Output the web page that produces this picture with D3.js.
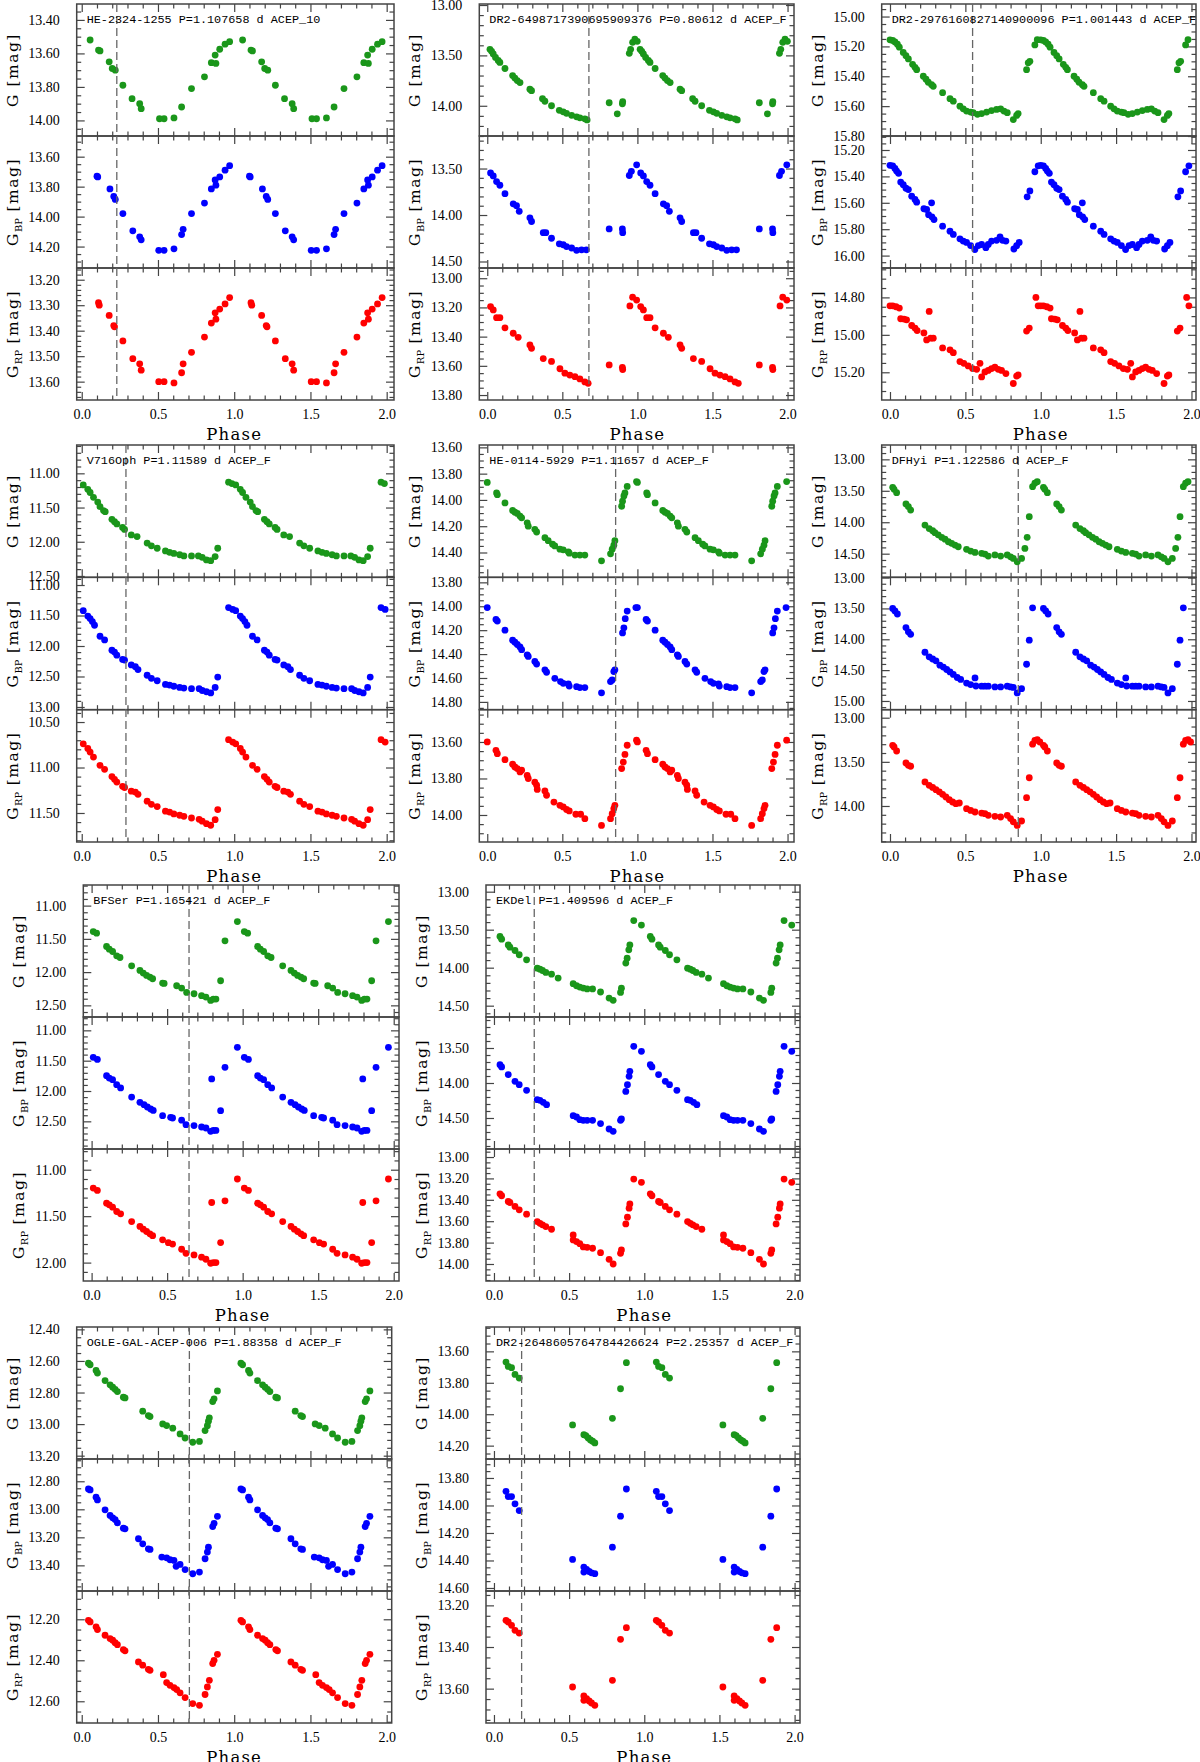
<!DOCTYPE html>
<html>
<head>
<meta charset="utf-8">
<script src="https://cdn.jsdelivr.net/npm/d3@7"></script>
<style>
  body { margin: 0; background: #fff; }
  svg { display: block; }
</style>
</head>
<body>
<svg id="chart"></svg>
<script>
// light curves: [phase, mag] for one cycle, drawn again at phase + 1

const titles = [
  'HE-2324-1255 P=1.107658 d ACEP_10',
  'DR2-6498717390695909376 P=0.80612 d ACEP_F',
  'DR2-2976160827140900096 P=1.001443 d ACEP_F',
  'V716Oph P=1.11589 d ACEP_F',
  'HE-0114-5929 P=1.11657 d ACEP_F',
  'DFHyi P=1.122586 d ACEP_F',
  'BFSer P=1.165421 d ACEP_F',
  'EKDel P=1.409596 d ACEP_F',
  'OGLE-GAL-ACEP-006 P=1.88358 d ACEP_F',
  'DR2-2648605764784426624 P=2.25357 d ACEP_F'
];

// phase of the dashed vertical line
const markPhase = [0.23, 0.677, 0.548, 0.29, 0.855, 0.851, 0.645, 0.268, 0.706, 0.184];

// y limits (bright at top) and major tick step, per star: G, BP, RP
const yLimits = [
  [[13.305, 14.093], [13.462, 14.343], [13.154, 13.672]],
  [[12.99, 14.30], [13.15, 14.57], [12.93, 13.834]],
  [[14.916, 15.80], [15.094, 16.094], [14.643, 15.348]],
  [[10.586, 12.52], [10.874, 13.044], [10.364, 11.819]],
  [[13.582, 14.589], [13.758, 14.865], [13.423, 14.148]],
  [[12.772, 14.876], [12.996, 15.141], [12.909, 14.408]],
  [[10.69, 12.675], [10.78, 12.956], [10.777, 12.198]],
  [[12.912, 14.649], [13.057, 14.943], [12.925, 14.159]],
  [[12.385, 13.221], [12.641, 13.583], [12.062, 12.706]],
  [[13.445, 14.285], [13.662, 14.622], [13.131, 13.765]]
];
const yStep = [
  [0.2, 0.2, 0.1], [0.5, 0.5, 0.2], [0.2, 0.2, 0.2], [0.5, 0.5, 0.5], [0.2, 0.2, 0.2],
  [0.5, 0.5, 0.5], [0.5, 0.5, 0.5], [0.5, 0.5, 0.2], [0.2, 0.2, 0.2], [0.2, 0.2, 0.2]
];

const s1G = [[0.055,13.52],[0.11,13.58],[0.12,13.585],[0.18,13.65],[0.20,13.69],[0.22,13.70],[0.27,13.79],[0.33,13.87],[0.38,13.90],[0.39,13.93],[0.51,13.99],[0.54,13.99],[0.605,13.985],[0.655,13.92],[0.72,13.81],[0.805,13.74],[0.85,13.655],[0.875,13.61],[0.88,13.66],[0.905,13.575],[0.94,13.545],[0.97,13.53]];
const s1BP = [[0.10,13.73],[0.105,13.735],[0.185,13.815],[0.21,13.865],[0.22,13.885],[0.27,13.98],[0.335,14.095],[0.38,14.135],[0.39,14.155],[0.505,14.225],[0.54,14.225],[0.605,14.215],[0.655,14.12],[0.665,14.085],[0.72,13.98],[0.805,13.91],[0.85,13.815],[0.875,13.755],[0.88,13.79],[0.905,13.735],[0.94,13.69],[0.97,13.66]];
const s1RP = [[0.11,13.29],[0.115,13.30],[0.18,13.34],[0.21,13.38],[0.215,13.385],[0.27,13.44],[0.335,13.51],[0.38,13.53],[0.39,13.555],[0.505,13.60],[0.54,13.60],[0.605,13.605],[0.655,13.565],[0.665,13.53],[0.72,13.485],[0.805,13.425],[0.85,13.37],[0.875,13.33],[0.88,13.355],[0.905,13.315],[0.94,13.295],[0.97,13.27]];

const s2G = [[0.018,13.44],[0.029,13.46],[0.04,13.485],[0.055,13.52],[0.073,13.55],[0.084,13.57],[0.118,13.63],[0.169,13.70],[0.184,13.725],[0.2,13.75],[0.218,13.77],[0.284,13.835],[0.295,13.85],[0.368,13.93],[0.384,13.955],[0.428,14.0],[0.48,14.045],[0.506,14.06],[0.528,14.075],[0.562,14.095],[0.595,14.11],[0.617,14.12],[0.65,14.13],[0.665,14.14],[0.812,13.97],[0.866,14.08],[0.9,13.98],[0.902,13.96],[0.946,13.48],[0.955,13.44],[0.968,13.37],[0.983,13.34],[0.999,13.36]];
const s2BP = [[0.022,13.547],[0.04,13.58],[0.062,13.64],[0.084,13.68],[0.118,13.77],[0.173,13.88],[0.195,13.90],[0.213,13.96],[0.284,14.03],[0.295,14.07],[0.373,14.19],[0.39,14.19],[0.428,14.25],[0.48,14.31],[0.506,14.32],[0.528,14.34],[0.562,14.355],[0.595,14.38],[0.628,14.375],[0.66,14.375],[0.812,14.15],[0.9,14.15],[0.902,14.19],[0.946,13.575],[0.96,13.53],[0.995,13.46]];
const s2RP = [[0.022,13.194],[0.04,13.217],[0.062,13.27],[0.084,13.27],[0.118,13.34],[0.173,13.377],[0.206,13.405],[0.284,13.457],[0.295,13.48],[0.373,13.55],[0.428,13.57],[0.484,13.62],[0.517,13.65],[0.55,13.663],[0.584,13.674],[0.617,13.69],[0.65,13.71],[0.672,13.72],[0.812,13.594],[0.9,13.61],[0.902,13.625],[0.95,13.19],[0.968,13.13],[0.995,13.15]];

const s3G = [[0.0,15.156],[0.018,15.16],[0.033,15.17],[0.049,15.185],[0.062,15.205],[0.088,15.24],[0.106,15.262],[0.122,15.284],[0.15,15.32],[0.166,15.34],[0.177,15.356],[0.221,15.40],[0.239,15.42],[0.254,15.44],[0.276,15.456],[0.287,15.467],[0.349,15.51],[0.398,15.55],[0.42,15.567],[0.464,15.60],[0.486,15.618],[0.508,15.633],[0.535,15.64],[0.552,15.644],[0.58,15.655],[0.608,15.65],[0.641,15.64],[0.674,15.63],[0.707,15.622],[0.734,15.618],[0.756,15.633],[0.778,15.644],[0.818,15.69],[0.84,15.662],[0.85,15.65],[0.906,15.356],[0.917,15.31],[0.928,15.30],[0.961,15.19],[0.977,15.155]];
const s3BP = [[0.0,15.316],[0.018,15.32],[0.033,15.34],[0.044,15.36],[0.057,15.377],[0.071,15.443],[0.088,15.463],[0.106,15.49],[0.122,15.50],[0.144,15.55],[0.166,15.575],[0.177,15.595],[0.225,15.645],[0.243,15.65],[0.256,15.69],[0.276,15.60],[0.278,15.706],[0.292,15.727],[0.349,15.777],[0.398,15.815],[0.42,15.84],[0.464,15.873],[0.486,15.89],[0.508,15.90],[0.535,15.924],[0.563,15.954],[0.586,15.924],[0.608,15.916],[0.636,15.94],[0.652,15.916],[0.674,15.89],[0.707,15.884],[0.73,15.858],[0.747,15.884],[0.769,15.89],[0.822,15.95],[0.84,15.925],[0.857,15.90],[0.91,15.555],[0.928,15.51],[0.961,15.365],[0.983,15.32]];
const s3RP = [[0.0,14.845],[0.018,14.845],[0.04,14.85],[0.062,14.857],[0.071,14.914],[0.093,14.916],[0.11,14.92],[0.144,14.95],[0.166,14.964],[0.18,14.977],[0.225,14.99],[0.243,15.027],[0.26,14.875],[0.27,15.018],[0.287,15.018],[0.349,15.07],[0.398,15.08],[0.42,15.095],[0.464,15.143],[0.49,15.152],[0.519,15.166],[0.548,15.18],[0.575,15.184],[0.597,15.152],[0.608,15.225],[0.63,15.198],[0.652,15.19],[0.674,15.18],[0.696,15.173],[0.718,15.184],[0.74,15.19],[0.769,15.207],[0.818,15.26],[0.84,15.22],[0.85,15.214],[0.906,14.98],[0.924,14.964],[0.968,14.80],[0.983,14.845]];

const s4G = [[0.01,11.17],[0.04,11.234],[0.055,11.28],[0.077,11.35],[0.105,11.42],[0.12,11.487],[0.143,11.545],[0.154,11.56],[0.198,11.672],[0.215,11.706],[0.23,11.74],[0.268,11.79],[0.281,11.82],[0.325,11.90],[0.363,11.925],[0.429,12.02],[0.457,12.06],[0.495,12.095],[0.549,12.134],[0.576,12.154],[0.604,12.17],[0.642,12.19],[0.67,12.207],[0.72,12.207],[0.765,12.207],[0.79,12.227],[0.818,12.266],[0.846,12.276],[0.875,12.217],[0.892,12.095],[0.963,11.13],[0.985,11.15]];
const s4BP = [[0.01,11.42],[0.04,11.51],[0.055,11.55],[0.07,11.60],[0.084,11.66],[0.12,11.84],[0.15,11.90],[0.198,12.07],[0.215,12.10],[0.23,12.15],[0.268,12.22],[0.281,12.23],[0.325,12.31],[0.352,12.34],[0.369,12.386],[0.429,12.48],[0.457,12.53],[0.495,12.57],[0.549,12.63],[0.576,12.64],[0.604,12.66],[0.642,12.68],[0.67,12.69],[0.72,12.70],[0.77,12.70],[0.79,12.73],[0.818,12.75],[0.846,12.77],[0.875,12.68],[0.892,12.51],[0.963,11.37],[0.99,11.40]];
const s4RP = [[0.01,10.74],[0.04,10.79],[0.055,10.83],[0.077,10.885],[0.12,10.976],[0.15,11.02],[0.198,11.10],[0.215,11.13],[0.23,11.16],[0.268,11.207],[0.281,11.22],[0.325,11.26],[0.352,11.27],[0.369,11.295],[0.429,11.37],[0.457,11.405],[0.495,11.43],[0.549,11.48],[0.576,11.49],[0.604,11.51],[0.642,11.525],[0.67,11.537],[0.72,11.555],[0.77,11.57],[0.79,11.59],[0.818,11.617],[0.846,11.635],[0.875,11.573],[0.892,11.463],[0.963,10.694],[0.99,10.72]];

const s5G = [[0.0,13.867],[0.062,13.947],[0.067,13.96],[0.118,14.023],[0.169,14.08],[0.184,14.093],[0.2,14.103],[0.218,14.123],[0.229,14.136],[0.266,14.174],[0.273,14.20],[0.317,14.224],[0.329,14.244],[0.384,14.287],[0.406,14.31],[0.435,14.337],[0.45,14.35],[0.484,14.375],[0.506,14.38],[0.54,14.395],[0.546,14.405],[0.584,14.42],[0.617,14.42],[0.65,14.42],[0.761,14.463],[0.821,14.41],[0.832,14.375],[0.843,14.345],[0.85,14.31],[0.895,14.048],[0.901,14.01],[0.91,13.97],[0.917,13.947],[0.932,13.897],[0.994,13.86]];
const s5BP = [[0.0,14.011],[0.058,14.11],[0.067,14.124],[0.118,14.20],[0.169,14.284],[0.184,14.30],[0.2,14.32],[0.218,14.34],[0.229,14.363],[0.266,14.406],[0.273,14.42],[0.317,14.462],[0.329,14.484],[0.384,14.532],[0.395,14.552],[0.45,14.603],[0.488,14.63],[0.506,14.645],[0.54,14.65],[0.546,14.668],[0.595,14.673],[0.617,14.68],[0.65,14.68],[0.761,14.724],[0.821,14.63],[0.832,14.617],[0.843,14.546],[0.85,14.532],[0.901,14.223],[0.91,14.18],[0.919,14.104],[0.932,14.04],[0.99,14.011]];
const s5RP = [[0.0,13.60],[0.058,13.646],[0.067,13.664],[0.118,13.697],[0.169,13.722],[0.184,13.737],[0.2,13.746],[0.218,13.764],[0.229,13.755],[0.266,13.783],[0.273,13.80],[0.317,13.82],[0.329,13.837],[0.333,13.86],[0.384,13.868],[0.395,13.892],[0.444,13.929],[0.484,13.947],[0.506,13.956],[0.528,13.97],[0.546,13.978],[0.59,13.996],[0.622,13.996],[0.65,14.02],[0.761,14.057],[0.821,14.02],[0.832,13.993],[0.843,13.965],[0.85,13.947],[0.895,13.746],[0.906,13.71],[0.917,13.668],[0.932,13.618],[0.994,13.59]];

const s6G = [[0.018,13.445],[0.027,13.477],[0.044,13.53],[0.106,13.71],[0.122,13.753],[0.137,13.806],[0.232,14.045],[0.26,14.10],[0.283,14.135],[0.298,14.166],[0.32,14.20],[0.343,14.24],[0.365,14.27],[0.387,14.31],[0.409,14.336],[0.431,14.363],[0.453,14.39],[0.508,14.43],[0.535,14.458],[0.564,14.48],[0.608,14.495],[0.63,14.506],[0.652,14.538],[0.696,14.52],[0.734,14.538],[0.778,14.52],[0.8,14.55],[0.818,14.575],[0.844,14.628],[0.873,14.575],[0.895,14.416],[0.91,14.24],[0.924,13.912],[0.946,13.435],[0.961,13.38],[0.977,13.355]];
const s6BP = [[0.018,13.50],[0.033,13.54],[0.049,13.59],[0.106,13.81],[0.122,13.88],[0.137,13.92],[0.232,14.21],[0.26,14.285],[0.283,14.32],[0.305,14.35],[0.331,14.42],[0.354,14.45],[0.376,14.49],[0.398,14.53],[0.42,14.57],[0.446,14.62],[0.469,14.65],[0.508,14.71],[0.535,14.735],[0.564,14.627],[0.57,14.757],[0.608,14.76],[0.63,14.76],[0.652,14.76],[0.696,14.773],[0.734,14.773],[0.778,14.76],[0.8,14.773],[0.818,14.78],[0.844,14.87],[0.873,14.80],[0.906,14.405],[0.924,14.015],[0.946,13.49]];
const s6RP = [[0.018,13.313],[0.027,13.332],[0.044,13.377],[0.106,13.513],[0.122,13.54],[0.137,13.55],[0.232,13.728],[0.26,13.766],[0.283,13.79],[0.305,13.815],[0.327,13.84],[0.349,13.868],[0.371,13.898],[0.393,13.928],[0.415,13.955],[0.437,13.974],[0.46,13.966],[0.508,14.03],[0.535,14.05],[0.564,14.068],[0.608,14.08],[0.63,14.087],[0.652,14.106],[0.696,14.117],[0.734,14.125],[0.778,14.106],[0.8,14.143],[0.818,14.18],[0.844,14.22],[0.873,14.17],[0.906,13.906],[0.924,13.68],[0.946,13.30],[0.961,13.257],[0.977,13.25],[0.994,13.275]];

const s7G = [[0.011,11.39],[0.033,11.415],[0.099,11.615],[0.117,11.655],[0.139,11.69],[0.166,11.755],[0.188,11.78],[0.265,11.905],[0.32,11.975],[0.342,12.015],[0.364,12.05],[0.386,12.075],[0.404,12.10],[0.47,12.165],[0.48,12.17],[0.563,12.205],[0.596,12.24],[0.629,12.305],[0.678,12.325],[0.728,12.355],[0.757,12.375],[0.788,12.425],[0.806,12.405],[0.823,12.405],[0.854,12.13],[0.883,11.53],[0.965,11.24]];
const s7BP = [[0.011,11.445],[0.038,11.48],[0.099,11.747],[0.117,11.786],[0.139,11.813],[0.166,11.895],[0.192,11.95],[0.265,12.10],[0.32,12.187],[0.347,12.225],[0.369,12.264],[0.391,12.297],[0.408,12.32],[0.47,12.407],[0.523,12.434],[0.536,12.445],[0.596,12.48],[0.625,12.555],[0.678,12.57],[0.728,12.593],[0.757,12.61],[0.788,12.665],[0.795,11.80],[0.806,12.65],[0.823,12.65],[0.854,12.324],[0.883,11.61],[0.965,11.28]];
const s7RP = [[0.011,11.198],[0.038,11.223],[0.099,11.36],[0.117,11.378],[0.139,11.403],[0.166,11.45],[0.192,11.475],[0.265,11.558],[0.32,11.61],[0.342,11.64],[0.364,11.665],[0.386,11.69],[0.404,11.71],[0.47,11.755],[0.508,11.785],[0.536,11.80],[0.596,11.856],[0.625,11.90],[0.678,11.917],[0.728,11.942],[0.757,11.964],[0.788,12.007],[0.795,11.353],[0.806,12.0],[0.823,12.0],[0.854,11.784],[0.883,11.335],[0.965,11.10]];

const s8G = [[0.04,13.59],[0.051,13.625],[0.095,13.70],[0.106,13.73],[0.14,13.774],[0.168,13.83],[0.217,13.897],[0.288,14.006],[0.306,14.02],[0.323,14.037],[0.345,14.063],[0.383,14.085],[0.427,14.137],[0.527,14.21],[0.549,14.238],[0.571,14.255],[0.594,14.269],[0.62,14.28],[0.656,14.28],[0.709,14.32],[0.766,14.40],[0.793,14.43],[0.842,14.325],[0.848,14.27],[0.877,13.94],[0.886,13.875],[0.897,13.765],[0.904,13.70],[0.93,13.38],[0.981,13.44]];
const s8BP = [[0.04,13.738],[0.051,13.77],[0.095,13.88],[0.14,13.976],[0.168,14.024],[0.217,14.105],[0.288,14.238],[0.306,14.248],[0.328,14.276],[0.35,14.31],[0.527,14.467],[0.549,14.486],[0.571,14.524],[0.594,14.533],[0.62,14.533],[0.656,14.533],[0.709,14.58],[0.766,14.657],[0.793,14.69],[0.842,14.533],[0.848,14.514],[0.877,14.12],[0.888,14.024],[0.899,13.905],[0.904,13.833],[0.93,13.476],[0.981,13.548]];
const s8RP = [[0.04,13.344],[0.051,13.362],[0.095,13.416],[0.106,13.425],[0.14,13.462],[0.168,13.494],[0.217,13.534],[0.288,13.603],[0.306,13.62],[0.323,13.634],[0.345,13.65],[0.383,13.675],[0.527,13.728],[0.527,13.775],[0.549,13.79],[0.571,13.81],[0.594,13.84],[0.62,13.844],[0.656,13.853],[0.709,13.894],[0.766,13.956],[0.793,14.0],[0.842,13.90],[0.848,13.869],[0.877,13.625],[0.888,13.562],[0.899,13.478],[0.904,13.438],[0.93,13.206],[0.981,13.237]];

const s9G = [[0.044,12.614],[0.055,12.624],[0.094,12.66],[0.103,12.677],[0.153,12.724],[0.186,12.751],[0.203,12.766],[0.219,12.78],[0.234,12.794],[0.273,12.83],[0.284,12.834],[0.40,12.918],[0.437,12.946],[0.448,12.952],[0.531,12.999],[0.557,13.009],[0.597,13.026],[0.645,13.062],[0.678,13.088],[0.728,13.115],[0.772,13.11],[0.809,13.041],[0.824,13.01],[0.831,12.982],[0.837,12.96],[0.859,12.857],[0.868,12.84],[0.89,12.79]];
const s9BP = [[0.044,12.855],[0.055,12.862],[0.094,12.914],[0.103,12.933],[0.153,13.004],[0.186,13.044],[0.203,13.061],[0.219,13.073],[0.234,13.097],[0.273,13.135],[0.284,13.139],[0.372,13.21],[0.40,13.246],[0.437,13.282],[0.448,13.286],[0.525,13.341],[0.557,13.346],[0.579,13.36],[0.605,13.365],[0.619,13.407],[0.645,13.393],[0.678,13.43],[0.728,13.46],[0.772,13.448],[0.809,13.353],[0.824,13.305],[0.831,13.27],[0.859,13.123],[0.868,13.10],[0.89,13.05]];
const s9RP = [[0.044,12.205],[0.055,12.213],[0.094,12.237],[0.103,12.25],[0.153,12.278],[0.186,12.294],[0.203,12.302],[0.219,12.314],[0.234,12.324],[0.273,12.348],[0.284,12.354],[0.372,12.408],[0.40,12.424],[0.437,12.444],[0.448,12.449],[0.535,12.47],[0.557,12.509],[0.579,12.522],[0.605,12.533],[0.623,12.543],[0.645,12.559],[0.678,12.582],[0.728,12.611],[0.772,12.62],[0.809,12.567],[0.824,12.53],[0.837,12.498],[0.859,12.416],[0.868,12.40],[0.89,12.371]];

const s10G = [[0.08,13.668],[0.095,13.696],[0.117,13.704],[0.14,13.747],[0.168,13.77],[0.523,14.068],[0.598,14.13],[0.611,14.136],[0.627,14.151],[0.642,14.164],[0.656,14.172],[0.671,14.183],[0.788,14.026],[0.842,13.838],[0.881,13.672]];
const s10BP = [[0.08,13.897],[0.095,13.935],[0.117,13.935],[0.14,13.988],[0.168,14.037],[0.523,14.392],[0.598,14.448],[0.598,14.484],[0.616,14.465],[0.633,14.48],[0.649,14.49],[0.671,14.496],[0.788,14.303],[0.842,14.078],[0.881,13.88]];
const s10RP = [[0.08,13.272],[0.095,13.28],[0.117,13.296],[0.14,13.32],[0.168,13.333],[0.523,13.592],[0.598,13.635],[0.598,13.656],[0.616,13.648],[0.633,13.659],[0.649,13.669],[0.671,13.68],[0.788,13.56],[0.842,13.363],[0.881,13.307]];

const curves = [
  [s1G, s1BP, s1RP], [s2G, s2BP, s2RP], [s3G, s3BP, s3RP], [s4G, s4BP, s4RP], [s5G, s5BP, s5RP],
  [s6G, s6BP, s6RP], [s7G, s7BP, s7RP], [s8G, s8BP, s8RP], [s9G, s9BP, s9RP], [s10G, s10BP, s10RP]
];

// ---- layout ----
const width = 1200;
const height = 1762;

const boxes = [
  { L: 76.7, R: 394, T: 4, B: 400, x0: -0.033, x1: 2.048 },
  { L: 479.3, R: 794, T: 4, B: 400, x0: -0.053, x1: 2.043 },
  { L: 881.7, R: 1196, T: 4, B: 400, x0: -0.055, x1: 2.03 },
  { L: 76.7, R: 394, T: 445, B: 842, x0: -0.033, x1: 2.048 },
  { L: 479.3, R: 794, T: 445, B: 842, x0: -0.053, x1: 2.043 },
  { L: 881.7, R: 1196, T: 445, B: 842, x0: -0.055, x1: 2.03 },
  { L: 83.3, R: 399, T: 885, B: 1281, x0: -0.055, x1: 2.035 },
  { L: 486, R: 800, T: 885, B: 1281, x0: -0.053, x1: 2.036 },
  { L: 76.7, R: 391.7, T: 1327, B: 1723, x0: -0.033, x1: 2.033 },
  { L: 486, R: 800, T: 1327, B: 1723, x0: -0.053, x1: 2.036 }
];

const bandColor = ['#1a961a', '#0000ff', '#ff0000'];
const bandSub = ['', 'BP', 'RP'];
const axisColor = '#444';

const svg = d3.select('#chart')
              .attr('width', width)
              .attr('height', height);

function stepValues(lo, hi, step) {
  const out = [];
  for (let k = Math.ceil(lo / step - 1e-6); k * step <= hi + 1e-6; k++) {
    out.push(+(k * step).toFixed(4));
  }
  return out;
}

function styleAxis(g) {
  g.select('.domain').remove();
  g.selectAll('line').attr('stroke', axisColor).attr('stroke-width', 1.2);
  g.selectAll('text')
    .attr('fill', '#000')
    .attr('font-family', '"Liberation Serif", serif')
    .attr('font-size', 14);
}

function drawStar(i) {
  const box = boxes[i];
  const g = svg.append('g');
  const x = d3.scaleLinear().domain([box.x0, box.x1]).range([box.L, box.R]);
  const ph = (box.B - box.T) / 3;

  const xMajor = stepValues(box.x0, box.x1, 0.5);
  const xMinor = stepValues(box.x0, box.x1, 0.1).filter((v) => !xMajor.some((m) => Math.abs(m - v) < 1e-6));

  curves[i].forEach((pts, b) => {
    const top = box.T + b * ph;
    const bot = top + ph;
    const [lo, hi] = yLimits[i][b];
    const y = d3.scaleLinear().domain([lo, hi]).range([top, bot]);
    const step = yStep[i][b];
    const minor = step === 0.5 ? 0.1 : step === 0.2 ? 0.05 : 0.02;
    const yMajor = stepValues(lo, hi, step);
    const yMinor = stepValues(lo, hi, minor).filter((v) => !yMajor.some((m) => Math.abs(m - v) < 1e-6));

    // left axis with labels
    g.append('g')
      .attr('transform', `translate(${box.L},0)`)
      .call(d3.axisLeft(y).tickValues(yMajor).tickSize(-8).tickPadding(17).tickFormat(d3.format('.2f')))
      .call(styleAxis);
    g.append('g')
      .attr('transform', `translate(${box.L},0)`)
      .call(d3.axisLeft(y).tickValues(yMinor).tickSize(-4.5).tickFormat(''))
      .call(styleAxis);
    // right axis
    g.append('g')
      .attr('transform', `translate(${box.R},0)`)
      .call(d3.axisRight(y).tickValues(yMajor).tickSize(-8).tickFormat(''))
      .call(styleAxis);
    g.append('g')
      .attr('transform', `translate(${box.R},0)`)
      .call(d3.axisRight(y).tickValues(yMinor).tickSize(-4.5).tickFormat(''))
      .call(styleAxis);
    // top and bottom ticks
    g.append('g')
      .attr('transform', `translate(0,${top})`)
      .call(d3.axisTop(x).tickValues(xMajor).tickSize(-8).tickFormat(''))
      .call(styleAxis);
    g.append('g')
      .attr('transform', `translate(0,${top})`)
      .call(d3.axisTop(x).tickValues(xMinor).tickSize(-4.5).tickFormat(''))
      .call(styleAxis);
    g.append('g')
      .attr('transform', `translate(0,${bot})`)
      .call(d3.axisBottom(x).tickValues(xMajor).tickSize(-8).tickPadding(9)
        .tickFormat(b === 2 ? d3.format('.1f') : ''))
      .call(styleAxis);
    g.append('g')
      .attr('transform', `translate(0,${bot})`)
      .call(d3.axisBottom(x).tickValues(xMinor).tickSize(-4.5).tickFormat(''))
      .call(styleAxis);

    // frame
    g.append('rect')
      .attr('x', box.L)
      .attr('y', top)
      .attr('width', box.R - box.L)
      .attr('height', ph)
      .attr('fill', 'none')
      .attr('stroke', axisColor)
      .attr('stroke-width', 1.5);

    // points, one cycle and its copy one phase later
    const both = pts.map((d) => [d[0], d[1]])
      .concat(pts.map((d) => [d[0] + 1, d[1]]))
      .filter((d) => d[0] <= box.x1 && d[0] >= box.x0);
    g.append('g')
      .selectAll('circle')
      .data(both)
      .enter()
      .append('circle')
        .attr('cx', (d) => x(d[0]))
        .attr('cy', (d) => y(d[1]))
        .attr('r', 3.4)
        .attr('fill', bandColor[b]);

    // y label
    const lab = g.append('text')
      .attr('transform', `translate(${box.L - 59},${(top + bot) / 2}) rotate(-90)`)
      .attr('text-anchor', 'middle')
      .attr('font-family', '"DejaVu Serif", serif')
      .attr('font-size', 15.5)
      .attr('letter-spacing', 1.5)
      .attr('fill', '#000');
    lab.append('tspan').text('G');
    if (bandSub[b]) {
      lab.append('tspan').attr('dy', 4).attr('font-size', 10).attr('letter-spacing', 0).text(bandSub[b]);
      lab.append('tspan').attr('dy', -4).text(' [mag]');
    } else {
      lab.append('tspan').text(' [mag]');
    }
  });

  // dashed marker line across the three panels
  g.append('line')
    .attr('x1', x(markPhase[i]))
    .attr('x2', x(markPhase[i]))
    .attr('y1', box.T)
    .attr('y2', box.B)
    .attr('stroke', '#666')
    .attr('stroke-width', 1.3)
    .attr('stroke-dasharray', '8,4');

  // star name and period
  g.append('text')
    .text(titles[i])
    .attr('x', box.L + 10)
    .attr('y', box.T + 18.5)
    .attr('font-family', '"Liberation Mono", monospace')
    .attr('font-size', 11.8)
    .attr('fill', '#000');

  // x label
  g.append('text')
    .text('Phase')
    .attr('x', x(1))
    .attr('y', box.B + 39.5)
    .attr('text-anchor', 'middle')
    .attr('font-family', '"DejaVu Serif", serif')
    .attr('font-size', 16.5)
    .attr('letter-spacing', 1.2)
    .attr('fill', '#000');
}

titles.forEach((t, i) => drawStar(i));
</script>
</body>
</html>
